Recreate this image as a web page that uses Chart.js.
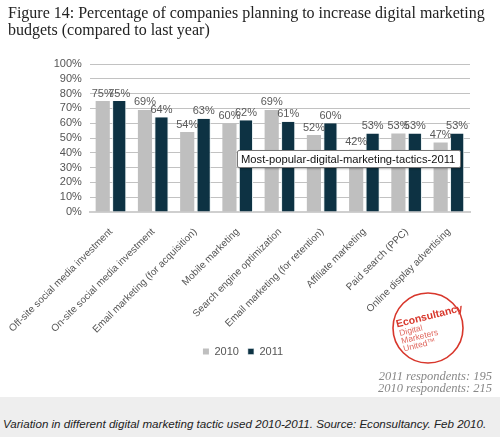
<!DOCTYPE html>
<html>
<head>
<meta charset="utf-8">
<script src="https://cdn.jsdelivr.net/npm/chart.js@4/dist/chart.umd.min.js"></script>
<style>
  body { margin: 0; background: #fff; }
  #wrap { position: relative; width: 500px; height: 446px; overflow: hidden; }
  #chart { position: absolute; left: 0; top: 0; }
  #title { position: absolute; left: 8px; top: 4px; font-family: "Liberation Serif", "DejaVu Serif", serif; font-size: 16px; line-height: 17px; color: #222; white-space: nowrap; }
  #tip { position: absolute; left: 237px; top: 150px; width: 219px; height: 16px; border: 1px solid #767676; background: #fff; box-shadow: 1px 1px 2px rgba(0,0,0,0.3); border-radius: 2px; font-family: "Liberation Sans", Arial, sans-serif; font-size: 11.2px; line-height: 16px; color: #111; padding-left: 3px; white-space: nowrap; }
  #resp { position: absolute; right: 8px; top: 371px; text-align: right; font-family: "Liberation Serif", serif; font-style: italic; font-size: 12.5px; line-height: 11.5px; color: #888; }
  #foot { position: absolute; left: 0; top: 397px; width: 500px; height: 40px; background: #eeeeee; }
  #foot span { position: absolute; left: 3px; top: 20px; font-family: "Liberation Sans", Arial, sans-serif; font-style: italic; font-size: 11.6px; color: #222; white-space: nowrap; }
  #logo { position: absolute; left: 390px; top: 290px; }
</style>
</head>
<body>
<div id="wrap">
  <canvas id="chart" width="500" height="446"></canvas>
  <div id="title">Figure 14: Percentage of companies planning to increase digital marketing<br>budgets (compared to last year)</div>
  <div id="tip">Most-popular-digital-marketing-tactics-2011</div>
  <svg id="logo" width="76" height="76" viewBox="0 0 76 76">
    <circle cx="38" cy="38" r="35" fill="none" stroke="#d8372c" stroke-width="1.6"/>
    <g transform="rotate(-14 38 38)" font-family="Liberation Sans, Arial, sans-serif" fill="#d8372c">
      <text x="8" y="30" font-size="10.5" font-weight="bold">Econsultancy</text>
      <text x="9" y="39" font-size="8.5" fill="#e0685f">Digital</text>
      <text x="9" y="47" font-size="8.5" fill="#e0685f">Marketers</text>
      <text x="9" y="55" font-size="8.5" fill="#e0685f">United™</text>
    </g>
  </svg>
  <div id="resp">2011 respondents: 195<br>2010 respondents: 215</div>
  <div id="foot"><span>Variation in different digital marketing tactic used 2010-2011. Source: Econsultancy. Feb 2010.</span></div>
</div>
<script>
// chart data
const tactics = [
  'Off-site social media investment',
  'On-site social media investment',
  'Email marketing (for acquisition)',
  'Mobile marketing',
  'Search engine optimization',
  'Email marketing (for retention)',
  'Affiliate marketing',
  'Paid search (PPC)',
  'Online display advertising'
];
const values2010 = [75, 69, 54, 60, 69, 52, 42, 53, 47];
const values2011 = [75, 64, 63, 62, 61, 60, 53, 53, 53];
const yTicks = [0, 10, 20, 30, 40, 50, 60, 70, 80, 90, 100];

Chart.defaults.font.family = '"Liberation Sans", Arial, sans-serif';
Chart.defaults.color = '#555';

// draw the % value above each bar
const valueLabels = {
  id: 'valueLabels',
  afterDatasetsDraw(chart) {
    const ctx = chart.ctx;
    ctx.save();
    ctx.font = '11px "Liberation Sans", Arial, sans-serif';
    ctx.fillStyle = '#595959';
    ctx.textAlign = 'center';
    ctx.textBaseline = 'bottom';
    chart.data.datasets.forEach((ds, i) => {
      chart.getDatasetMeta(i).data.forEach((bar, j) => {
        ctx.fillText(ds.data[j] + '%', bar.x, bar.y - 2);
      });
    });
    ctx.restore();
  }
};

const ctx = document.getElementById('chart').getContext('2d');
const chart = new Chart(ctx, {
  type: 'bar',
  data: {
    labels: tactics,
    datasets: [
      { label: '2010', data: values2010, backgroundColor: '#bfbfbf' },
      { label: '2011', data: values2011, backgroundColor: '#0d3243', borderColor: '#e6eef0', borderWidth: { left: 1, right: 1, top: 0, bottom: 0 } }
    ]
  },
  options: {
    responsive: false,
    animation: false,
    devicePixelRatio: 1,
    categoryPercentage: 0.78,
    barPercentage: 0.86,
    layout: { padding: { left: 16, top: 64, right: 30, bottom: 79 } },
    plugins: {
      legend: {
        position: 'bottom',
        labels: { boxWidth: 6, boxHeight: 6, padding: 9, font: { size: 11 }, color: '#555' }
      },
      tooltip: { enabled: false }
    },
    scales: {
      x: {
        grid: { display: false },
        border: { color: '#cfcfcf', width: 2 },
        ticks: { minRotation: 45, maxRotation: 45, autoSkip: false, font: { size: 10 }, color: '#555', padding: 6 },
        afterFit(scale) { scale.height = 125; }
      },
      y: {
        min: 0,
        max: 100,
        afterBuildTicks(scale) { scale.ticks = yTicks.map(v => ({ value: v })); },
        grid: { color: '#c2c2c2', drawTicks: false },
        border: { display: false },
        ticks: { autoSkip: false, font: { size: 11 }, color: '#555', padding: 8, callback: v => v + '%' },
        afterFit(scale) { scale.width = 72; }
      }
    }
  },
  plugins: [valueLabels]
});
</script>
</body>
</html>
